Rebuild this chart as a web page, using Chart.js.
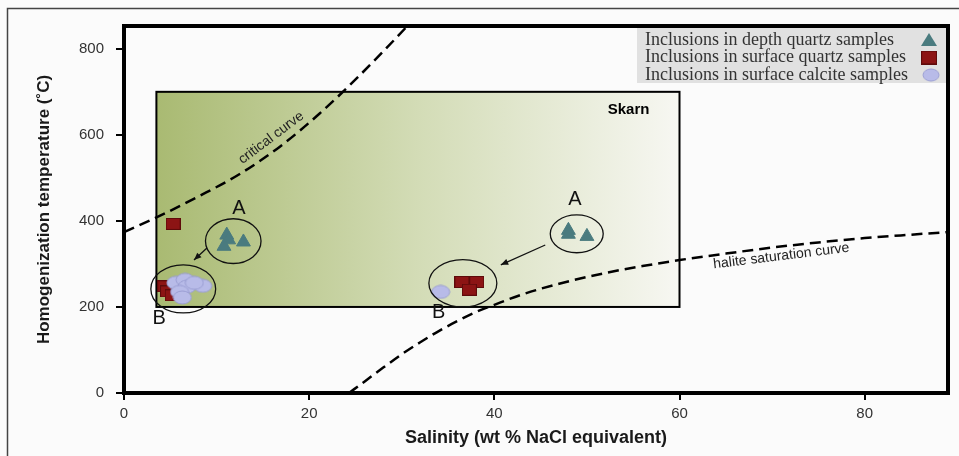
<!DOCTYPE html>
<html>
<head>
<meta charset="utf-8">
<title>Homogenization temperature vs salinity</title>
<script src="https://cdn.jsdelivr.net/npm/chart.js@4.4.0/dist/chart.umd.min.js"></script>
<style>
    html, body { margin: 0; padding: 0; background: #fbfbfb; }
    #wrap { width: 959px; height: 456px; }
</style>
</head>
<body>
<div id="wrap"><canvas id="fluidChart" width="959" height="456"></canvas></div>
<script>
/* ===== DATA ===== */
const xTicks = [0, 20, 40, 60, 80];
const yTicks = [0, 200, 400, 600, 800];

const depthQuartzX = [11.1, 11.3, 10.8, 12.9, 48.0, 48.0, 50.0];
const depthQuartzY = [367, 356, 341, 351, 378, 369, 364];

const surfQuartzX = [5.3, 4.4, 4.7, 5.2, 36.5, 38.1, 37.3];
const surfQuartzY = [393, 248, 236, 227, 258, 258, 240];

const calciteX = [5.6, 6.6, 6.8, 6.0, 6.3, 8.5, 7.6, 34.2];
const calciteY = [256, 263, 247, 235, 222, 249, 256, 235];

const criticalX = [0, 3.5, 8.15, 12.5, 16.8, 21.1, 25.4, 30.3, 31.9];
const criticalY = [374, 408, 458, 509, 572, 649, 737, 846, 884];

const haliteX = [24.3, 26, 28, 30, 32, 34, 36, 38, 40, 43, 47, 52, 56, 60, 65, 70, 75, 80, 85, 89];
const haliteY = [0, 27, 59, 90, 118, 144, 167, 188, 205, 229, 254, 279, 295, 309, 324, 338, 350, 360, 368, 374];

const skarnX = [3.5, 60];
const skarnY = [200, 700];

const seriesLabels = [
    'Inclusions in depth quartz samples',
    'Inclusions in surface quartz samples',
    'Inclusions in surface calcite samples'
];

/* ===== HELPERS ===== */
function toPoints(xs, ys) {
    return xs.map((x, i) => ({ x: x, y: ys[i] }));
}

function makeSquare(w, h) {
    const c = document.createElement('canvas');
    c.width = w; c.height = h;
    const g = c.getContext('2d');
    g.fillStyle = '#8c1414';
    g.fillRect(0, 0, w, h);
    g.strokeStyle = '#5e0a0a';
    g.lineWidth = 1;
    g.strokeRect(0.5, 0.5, w - 1, h - 1);
    return c;
}

function makeEllipse(w, h) {
    const c = document.createElement('canvas');
    c.width = w; c.height = h;
    const g = c.getContext('2d');
    g.beginPath();
    g.ellipse(w / 2, h / 2, w / 2 - 1, h / 2 - 1, 0, 0, Math.PI * 2);
    g.fillStyle = '#b8bbe8';
    g.fill();
    g.strokeStyle = '#9a9ed2';
    g.lineWidth = 1;
    g.stroke();
    return c;
}

const squareImg = makeSquare(15, 12);
const ellipseImg = makeEllipse(20, 15);
const triColor = '#4a7b7f';

/* ===== ANNOTATION PLUGIN ===== */
const annotations = {
    id: 'annotations',
    beforeDraw(chart) {
        const ctx = chart.ctx;
        ctx.save();
        ctx.fillStyle = '#fbfbfb';
        ctx.fillRect(0, 0, chart.width, chart.height);
        ctx.strokeStyle = '#444';
        ctx.lineWidth = 1.5;
        ctx.strokeRect(7.5, 8.5, chart.width + 10, chart.height + 10);
        ctx.restore();
    },
    beforeDatasetsDraw(chart) {
        const ctx = chart.ctx;
        const xs = chart.scales.x, ys = chart.scales.y;
        const l = xs.getPixelForValue(skarnX[0]), r = xs.getPixelForValue(skarnX[1]);
        const t = ys.getPixelForValue(skarnY[1]), b = ys.getPixelForValue(skarnY[0]);
        ctx.save();
        const grad = ctx.createLinearGradient(l, 0, r, 0);
        grad.addColorStop(0, '#a9ba72');
        grad.addColorStop(0.5, '#d3dcb6');
        grad.addColorStop(1, '#f7f7f2');
        ctx.fillStyle = grad;
        ctx.fillRect(l, t, r - l, b - t);
        ctx.strokeStyle = '#000';
        ctx.lineWidth = 2;
        ctx.strokeRect(l, t, r - l, b - t);

        ctx.fillStyle = '#000';
        ctx.font = 'bold 15px "Liberation Sans", Arial, sans-serif';
        ctx.textAlign = 'center';
        ctx.textBaseline = 'middle';
        ctx.fillText('Skarn', xs.getPixelForValue(54.5), ys.getPixelForValue(658));
        ctx.restore();
    },
    afterDatasetsDraw(chart) {
        const ctx = chart.ctx;
        const xs = chart.scales.x, ys = chart.scales.y;
        const px = v => xs.getPixelForValue(v);
        const py = v => ys.getPixelForValue(v);

        ctx.save();
        // group ellipses
        ctx.strokeStyle = '#111';
        ctx.lineWidth = 1.3;
        [[11.8, 353, 3.0, 52], [6.4, 242, 3.5, 56], [48.9, 370, 2.86, 44], [36.6, 255, 3.67, 55]].forEach(e => {
            ctx.beginPath();
            ctx.ellipse(px(e[0]), py(e[1]), px(e[0] + e[2]) - px(e[0]), py(e[1]) - py(e[1] + e[3]), 0, 0, Math.PI * 2);
            ctx.stroke();
        });

        // arrows A -> B
        [[8.96, 337, 7.56, 309], [45.5, 344, 40.7, 298]].forEach(a => {
            const x1 = px(a[0]), y1 = py(a[1]), x2 = px(a[2]), y2 = py(a[3]);
            const ang = Math.atan2(y2 - y1, x2 - x1);
            ctx.beginPath();
            ctx.moveTo(x1, y1);
            ctx.lineTo(x2, y2);
            ctx.stroke();
            ctx.beginPath();
            ctx.moveTo(x2, y2);
            ctx.lineTo(x2 - 8 * Math.cos(ang - 0.4), y2 - 8 * Math.sin(ang - 0.4));
            ctx.lineTo(x2 - 8 * Math.cos(ang + 0.4), y2 - 8 * Math.sin(ang + 0.4));
            ctx.closePath();
            ctx.fillStyle = '#111';
            ctx.fill();
        });

        // A / B labels
        ctx.fillStyle = '#111';
        ctx.font = '20px "Liberation Sans", Arial, sans-serif';
        ctx.textAlign = 'center';
        ctx.textBaseline = 'middle';
        ctx.fillText('A', px(12.4), py(430));
        ctx.fillText('B', px(3.8), py(174));
        ctx.fillText('A', px(48.7), py(449));
        ctx.fillText('B', px(34.0), py(186));

        // curve labels
        ctx.font = '14px "Liberation Sans", Arial, sans-serif';
        ctx.fillStyle = '#222';
        ctx.save();
        ctx.translate(px(15.9), py(593));
        ctx.rotate(-37 * Math.PI / 180);
        ctx.fillText('critical curve', 0, 0);
        ctx.restore();
        ctx.save();
        ctx.translate(px(71), py(318));
        ctx.rotate(-7 * Math.PI / 180);
        ctx.fillText('halite saturation curve', 0, 0);
        ctx.restore();
        ctx.restore();
    },
    afterDraw(chart) {
        const ctx = chart.ctx;
        const a = chart.chartArea;
        ctx.save();
        // frame
        ctx.strokeStyle = '#000';
        ctx.lineWidth = 4;
        ctx.strokeRect(a.left, a.top, a.right - a.left, a.bottom - a.top);

        // legend (markers on the right of the text)
        const lx = 637, ly = a.top + 2, lw = a.right - 2 - lx, lh = 55;
        ctx.fillStyle = '#e1e1e1';
        ctx.fillRect(lx, ly, lw, lh);
        ctx.font = '18px "Liberation Serif", "Times New Roman", serif';
        ctx.fillStyle = '#333';
        ctx.textAlign = 'left';
        ctx.textBaseline = 'middle';
        const rows = [ly + 12, ly + 29.5, ly + 47];
        seriesLabels.forEach((txt, i) => ctx.fillText(txt, lx + 8, rows[i]));
        const mx = 929;
        ctx.fillStyle = triColor;
        ctx.beginPath();
        ctx.moveTo(mx, rows[0] - 7);
        ctx.lineTo(mx + 8, rows[0] + 6);
        ctx.lineTo(mx - 8, rows[0] + 6);
        ctx.closePath();
        ctx.fill();
        ctx.drawImage(squareImg, mx - 8, rows[1] - 7, 16, 14);
        ctx.drawImage(ellipseImg, mx - 7, rows[2] - 7, 18, 14);
        ctx.restore();
    }
};

/* ===== CHART ===== */
function initializeChart() {
    const ctx = document.getElementById('fluidChart');
    new Chart(ctx.getContext('2d'), {
        type: 'scatter',
        data: {
            datasets: [
                {
                    label: seriesLabels[0],
                    data: toPoints(depthQuartzX, depthQuartzY),
                    pointStyle: 'triangle',
                    pointRadius: 8,
                    backgroundColor: triColor,
                    borderColor: triColor,
                    borderWidth: 1,
                    order: 0
                },
                {
                    label: seriesLabels[1],
                    data: toPoints(surfQuartzX, surfQuartzY),
                    pointStyle: squareImg,
                    order: 2
                },
                {
                    label: seriesLabels[2],
                    data: toPoints(calciteX, calciteY),
                    pointStyle: ellipseImg,
                    order: 1
                },
                {
                    label: 'critical curve',
                    data: toPoints(criticalX, criticalY),
                    showLine: true,
                    pointRadius: 0,
                    borderColor: '#000',
                    borderWidth: 2.5,
                    borderDash: [11, 6],
                    cubicInterpolationMode: 'monotone',
                    order: 3
                },
                {
                    label: 'halite saturation curve',
                    data: toPoints(haliteX, haliteY),
                    showLine: true,
                    pointRadius: 0,
                    borderColor: '#000',
                    borderWidth: 2.5,
                    borderDash: [11, 6],
                    cubicInterpolationMode: 'monotone',
                    order: 3
                }
            ]
        },
        options: {
            responsive: false,
            animation: false,
            layout: { padding: { top: 26, right: 11, left: 0, bottom: 0 } },
            plugins: {
                legend: { display: false },
                tooltip: { enabled: false }
            },
            scales: {
                x: {
                    type: 'linear',
                    min: 0,
                    max: 89,
                    afterFit: s => { s.height = 63; },
                    afterBuildTicks: s => { s.ticks = xTicks.map(v => ({ value: v })); },
                    grid: { drawOnChartArea: false, color: '#000', lineWidth: 2, tickLength: 7 },
                    border: { display: false },
                    ticks: {
                        color: '#333',
                        padding: 5,
                        font: { family: '"Liberation Sans", Arial, sans-serif', size: 15 }
                    },
                    title: {
                        display: true,
                        text: 'Salinity (wt % NaCl equivalent)',
                        color: '#1a1a1a',
                        padding: { top: 0, bottom: 7 },
                        font: { family: '"Liberation Sans", Arial, sans-serif', size: 18, weight: 'bold' }
                    }
                },
                y: {
                    type: 'linear',
                    min: 0,
                    max: 853,
                    afterFit: s => { s.width = 124; },
                    afterBuildTicks: s => { s.ticks = yTicks.map(v => ({ value: v })); },
                    grid: { drawOnChartArea: false, color: '#000', lineWidth: 2, tickLength: 8 },
                    border: { display: false },
                    ticks: {
                        color: '#333',
                        padding: 12,
                        font: { family: '"Liberation Sans", Arial, sans-serif', size: 15 }
                    },
                    title: {
                        display: true,
                        text: 'Homogenization temperature (˚C)',
                        color: '#1a1a1a',
                        padding: { top: 34, bottom: 0 },
                        font: { family: '"Liberation Sans", Arial, sans-serif', size: 17, weight: 'bold' }
                    }
                }
            }
        },
        plugins: [annotations]
    });
}

document.addEventListener('DOMContentLoaded', function() {
    initializeChart();
});
</script>
</body>
</html>
